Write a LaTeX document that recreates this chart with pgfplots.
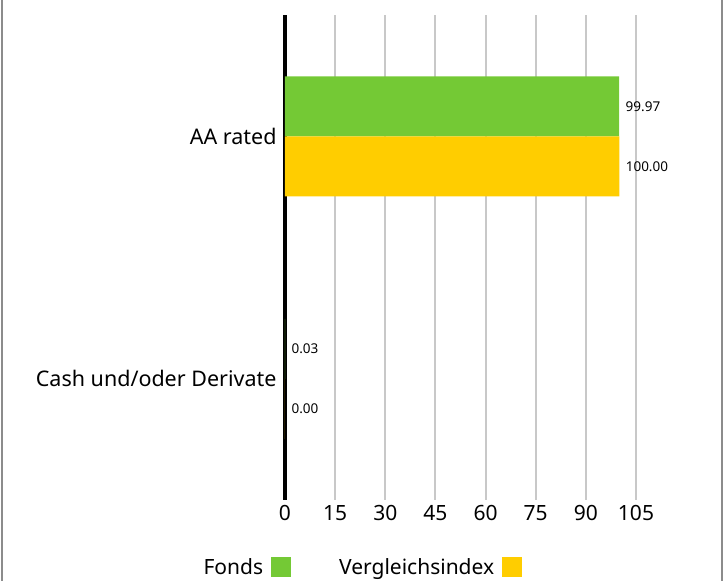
\documentclass[border=0pt]{standalone}
\usepackage{pgfplots}
\pgfplotsset{compat=1.18}
\usepackage{fontspec}
\setmainfont{Noto Sans}
\definecolor{fgreen}{HTML}{74C935}
\definecolor{fyellow}{HTML}{FFCD00}
\definecolor{gridgray}{HTML}{C8C8C8}
\definecolor{bordergray}{HTML}{8C8C8C}
\begin{document}
\begin{tikzpicture}
\path[use as bounding box] (0,0) rectangle (726pt,581pt);
\draw[bordergray, line width=2pt] (2pt,0) -- (2pt,581pt);
\draw[bordergray, line width=2pt] (722pt,0) -- (722pt,581pt);
\begin{axis}[
  at={(285pt,81pt)}, anchor=south west,
  scale only axis, width=351pt, height=485pt,
  xmin=0, xmax=105, ymin=-0.5, ymax=1.5,
  y dir=reverse,
  xtick={0,15,30,45,60,75,90,105},
  ytick={0,1},
  yticklabels={AA rated, Cash und/oder Derivate},
  major tick length=0pt,
  axis lines*=left,
  x axis line style={draw=none},
  y axis line style={line width=4pt, black},
  xmajorgrids, grid style={gridgray, line width=2pt},
  /pgf/number format/assume math mode=true,
  xticklabel style={font=\fontsize{21}{24}\selectfont, yshift=-2pt},
  yticklabel style={font=\fontsize{21.5}{24}\selectfont, xshift=-5pt},
  xbar, bar width=60pt,
  nodes near coords,
  point meta=x,
  nodes near coords style={font=\fontsize{13.5}{16}\selectfont, anchor=west, xshift=3pt,
    /pgf/number format/.cd, fixed, zerofill, precision=2},
  legend plot pos=right,
  legend columns=2,
  legend image code/.code={\fill[#1] (0pt,-10pt) rectangle (20pt,10pt);},
  legend style={draw=none, at={(0.219,-0.138)}, anchor=center,
    font=\fontsize{21}{24}\selectfont,
    /tikz/every odd column/.append style={column sep=6pt},
    /tikz/every even column/.append style={column sep=46pt}},
]
\addplot[fill=fgreen, draw=none, bar shift=30pt] coordinates {(99.97,0) (0.03,1)};
\addlegendentry{Fonds}
\addplot[fill=fyellow, draw=none, bar shift=-30pt] coordinates {(100.00,0) (0.00,1)};
\addlegendentry{Vergleichsindex}
\end{axis}
\end{tikzpicture}
\end{document}
